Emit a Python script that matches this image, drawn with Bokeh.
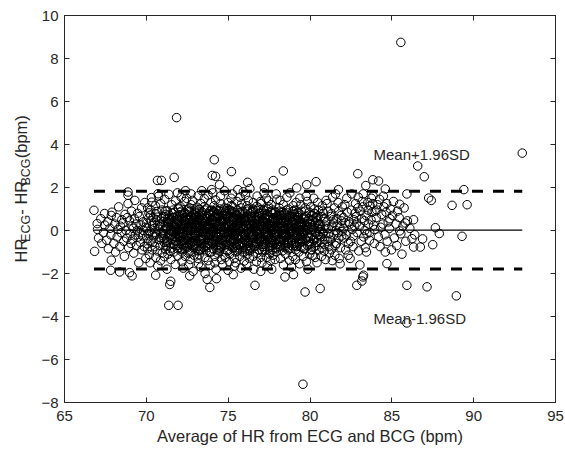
import math
from bokeh.plotting import figure
from bokeh.layouts import row
from bokeh.models import Range1d, LinearAxis, FixedTicker
from bokeh.core.properties import value
from bokeh.embed import file_html
from bokeh.resources import INLINE

# ---------------- data ----------------
avg_core = [
    67.02, 67.08, 67.22, 67.28, 67.38, 67.46, 67.58, 67.64, 67.68, 67.78, 67.83, 67.9,
    68.02, 68.07, 68.12, 68.18, 68.22, 68.27, 68.31, 68.38, 68.42, 68.46, 68.5,
    68.57, 68.62, 68.66, 68.7, 68.76, 68.8, 68.84, 68.88, 68.92,
    68.97, 69.01, 69.05, 69.09, 69.12, 69.16, 69.2, 69.23, 69.27, 69.3, 69.33,
    69.37, 69.4, 69.44, 69.47, 69.51, 69.54, 69.57, 69.6, 69.64, 69.67, 69.71, 69.74,
    69.77, 69.8, 69.83, 69.87, 69.9, 69.93, 69.97,
    70.01, 70.05, 70.08, 70.12, 70.15, 70.18, 70.03, 70.10, 70.16, 70.07,
    70.21, 70.25, 70.28, 70.33, 70.36, 70.39, 70.23, 70.30, 70.37, 70.27,
    70.42, 70.44, 70.49, 70.52, 70.55, 70.58, 70.47, 70.51, 70.57, 70.41,
    70.61, 70.64, 70.68, 70.71, 70.75, 70.78, 70.63, 70.70, 70.77, 70.66,
    70.81, 70.85, 70.88, 70.91, 70.95, 70.98, 70.83, 70.90, 70.96, 70.87,
    71.02, 71.05, 71.09, 71.12, 71.15, 71.19, 71.04, 71.11, 71.17, 71.07,
    71.21, 71.24, 71.28, 71.32, 71.35, 71.38, 71.23, 71.30, 71.37, 71.26,
    71.41, 71.45, 71.48, 71.52, 71.55, 71.59, 71.43, 71.50, 71.57, 71.47,
    71.61, 71.64, 71.68, 71.71, 71.75, 71.78, 71.63, 71.70, 71.77, 71.66,
    71.81, 71.84, 71.88, 71.92, 71.95, 71.98, 71.83, 71.90, 71.97, 71.86,
    72.01, 72.04, 72.07, 72.11, 72.14, 72.18, 72.02, 72.09, 72.16, 72.06, 72.13, 72.19,
    72.21, 72.24, 72.27, 72.31, 72.34, 72.38, 72.22, 72.29, 72.36, 72.26, 72.33, 72.39,
    72.41, 72.44, 72.48, 72.51, 72.54, 72.58, 72.43, 72.50, 72.57, 72.46, 72.53, 72.59,
    72.61, 72.64, 72.67, 72.71, 72.74, 72.78, 72.62, 72.69, 72.76, 72.66, 72.73, 72.79,
    72.81, 72.84, 72.88, 72.91, 72.94, 72.98, 72.83, 72.90, 72.97, 72.86, 72.93, 72.99,
    73.01, 73.04, 73.08, 73.11, 73.15, 73.18, 73.03, 73.10, 73.17, 73.06, 73.13, 73.19,
    73.21, 73.24, 73.28, 73.31, 73.34, 73.38, 73.23, 73.30, 73.37, 73.26, 73.33, 73.39,
    73.41, 73.44, 73.47, 73.51, 73.54, 73.58, 73.43, 73.50, 73.57, 73.46, 73.53, 73.59,
    73.61, 73.64, 73.68, 73.71, 73.74, 73.78, 73.63, 73.70, 73.77, 73.66, 73.73, 73.79,
    73.81, 73.84, 73.88, 73.91, 73.95, 73.98, 73.83, 73.90, 73.97, 73.86, 73.93, 73.99,
    74.01, 74.05, 74.08, 74.11, 74.14, 74.18, 74.03, 74.10, 74.17, 74.06, 74.13, 74.19,
    74.21, 74.24, 74.28, 74.31, 74.35, 74.38, 74.23, 74.30, 74.37, 74.26, 74.33, 74.39,
    74.41, 74.44, 74.48, 74.51, 74.54, 74.58, 74.43, 74.50, 74.57, 74.46, 74.53, 74.59,
    74.61, 74.64, 74.68, 74.71, 74.75, 74.78, 74.63, 74.70, 74.77, 74.66, 74.73, 74.79,
    74.81, 74.84, 74.88, 74.91, 74.94, 74.98, 74.83, 74.90, 74.97, 74.86, 74.93, 74.99,
    75.01, 75.04, 75.08, 75.11, 75.15, 75.18, 75.03, 75.10, 75.17, 75.06, 75.13, 75.19,
    75.21, 75.24, 75.28, 75.31, 75.34, 75.38, 75.23, 75.30, 75.37, 75.26, 75.33, 75.39,
    75.41, 75.44, 75.47, 75.51, 75.54, 75.58, 75.43, 75.50, 75.57, 75.46, 75.53, 75.59,
    75.61, 75.64, 75.68, 75.71, 75.74, 75.78, 75.63, 75.70, 75.77, 75.66, 75.73, 75.79,
    75.81, 75.84, 75.88, 75.91, 75.95, 75.98, 75.83, 75.90, 75.97, 75.86, 75.93, 75.99,
    76.01, 76.04, 76.08, 76.11, 76.15, 76.18, 76.03, 76.10, 76.17, 76.06, 76.13, 76.19,
    76.21, 76.24, 76.28, 76.31, 76.34, 76.38, 76.23, 76.30, 76.37, 76.26, 76.33, 76.39,
    76.41, 76.44, 76.47, 76.51, 76.54, 76.58, 76.43, 76.50, 76.57, 76.46, 76.53, 76.59,
    76.61, 76.64, 76.68, 76.71, 76.74, 76.78, 76.63, 76.70, 76.77, 76.66, 76.73, 76.79,
    76.81, 76.84, 76.88, 76.91, 76.94, 76.98, 76.83, 76.90, 76.97, 76.86, 76.93, 76.99,
    77.01, 77.04, 77.08, 77.11, 77.15, 77.18, 77.03, 77.10, 77.17, 77.06, 77.13, 77.19,
    77.21, 77.24, 77.28, 77.31, 77.34, 77.38, 77.23, 77.30, 77.37, 77.26, 77.33, 77.39,
    77.41, 77.44, 77.47, 77.51, 77.54, 77.58, 77.43, 77.50, 77.57, 77.46, 77.53, 77.59,
    77.61, 77.64, 77.68, 77.71, 77.74, 77.78, 77.63, 77.70, 77.77, 77.66, 77.73, 77.79,
    77.81, 77.84, 77.88, 77.91, 77.95, 77.98, 77.83, 77.90, 77.97, 77.86, 77.93, 77.99,
    78.02, 78.05, 78.09, 78.12, 78.15, 78.19, 78.04, 78.11, 78.17, 78.07,
    78.21, 78.25, 78.28, 78.32, 78.35, 78.38, 78.23, 78.30, 78.37, 78.27,
    78.41, 78.45, 78.48, 78.52, 78.55, 78.59, 78.43, 78.50, 78.57, 78.47,
    78.61, 78.64, 78.68, 78.71, 78.75, 78.78, 78.63, 78.70, 78.77, 78.66,
    78.81, 78.85, 78.88, 78.92, 78.95, 78.98, 78.83, 78.90, 78.97, 78.87,
    79.02, 79.05, 79.09, 79.12, 79.15, 79.19, 79.04, 79.11, 79.17, 79.07,
    79.21, 79.25, 79.28, 79.32, 79.35, 79.38, 79.23, 79.30, 79.37, 79.27,
    79.41, 79.45, 79.48, 79.52, 79.55, 79.59, 79.43, 79.50, 79.57, 79.47,
    79.61, 79.64, 79.68, 79.71, 79.75, 79.78, 79.63, 79.70, 79.77, 79.66,
    79.81, 79.85, 79.88, 79.92, 79.95, 79.98, 79.83, 79.90, 79.97, 79.87,
    80.02, 80.05, 80.09, 80.12, 80.15, 80.19, 80.04, 80.11, 80.17, 80.07,
    80.21, 80.25, 80.28, 80.32, 80.35, 80.38, 80.23, 80.30, 80.37, 80.27,
    80.41, 80.45, 80.48, 80.52, 80.55, 80.59, 80.43, 80.50, 80.57, 80.47,
    80.61, 80.64, 80.68, 80.71, 80.75, 80.78, 80.63, 80.70, 80.77, 80.66,
    80.81, 80.85, 80.88, 80.92, 80.95, 80.98, 80.83, 80.90, 80.97, 80.87,
    81.02, 81.06, 81.10, 81.14, 81.18, 81.04, 81.12, 81.16,
    81.22, 81.26, 81.30, 81.34, 81.38, 81.24, 81.32, 81.36,
    81.42, 81.46, 81.50, 81.54, 81.58, 81.44, 81.52, 81.56,
    81.62, 81.66, 81.70, 81.74, 81.78, 81.64, 81.72, 81.76,
    81.82, 81.86, 81.90, 81.94, 81.98, 81.84, 81.92, 81.96,
    82.03, 82.08, 82.13, 82.18, 82.05, 82.15,
    82.23, 82.28, 82.33, 82.38, 82.25, 82.35,
    82.43, 82.48, 82.53, 82.58, 82.45, 82.55,
    82.63, 82.68, 82.73, 82.78, 82.65, 82.75,
    82.83, 82.88, 82.93, 82.98, 82.85, 82.95,
    83.03, 83.08, 83.13, 83.18, 83.05, 83.15,
    83.23, 83.28, 83.33, 83.38, 83.25, 83.35,
    83.43, 83.48, 83.53, 83.58, 83.45, 83.55,
    83.63, 83.68, 83.73, 83.78, 83.65, 83.75,
    83.83, 83.88, 83.93, 83.98, 83.85, 83.95,
    84.05, 84.12, 84.18, 84.08,
    84.25, 84.32, 84.38, 84.28,
    84.45, 84.52, 84.58, 84.48,
    84.65, 84.72, 84.78, 84.68,
    84.85, 84.92, 84.98, 84.88,
    85.05, 85.15, 85.10,
    85.25, 85.35, 85.30,
    85.45, 85.55,
    85.68, 85.75,
    85.85, 85.95,
    86.10, 86.40,
]
diff_core = [
    0.05, -0.35, 0.55, -0.6, -0.1, 0.25, -0.45, 0.4, -0.85, 0.1, -0.2, 0.85,
    -0.6, 0.3, -1.0, 0.6, -0.3, 0.05, 1.1, -0.75, 0.2, -0.1, 0.5,
    0.35, -0.5, -1.2, 0.75, 0.0, -0.35, 0.6, 1.25, -0.8,
    0.45, -0.15, -0.6, 0.9, 0.2, -0.4, 0.1, -1.05, 0.55, 1.4, -0.2,
    0.3, -0.7, 0.0, 0.8, -0.3, -1.5, 0.65, -0.1, -0.55, 0.25, 1.05, -0.9,
    -0.25, 0.4, 0.0, -0.75, 1.3, 0.15, -1.3,
    0.35, -0.62, 1.05, -0.15, 0.58, -1.12, 0.12, -0.38, 0.82, -0.85,
    -0.05, 0.72, -0.48, 1.32, -0.9, 0.25, -1.5, 0.45, -0.22, 0.95,
    0.6, -0.3, 0.1, -0.75, 1.15, -1.25, 0.38, -0.08, 0.78, -0.55,
    -0.18, 0.48, -0.95, 0.22, 1.6, -0.42, 0.88, -1.65, 0.05, 0.62,
    0.3, -0.7, 1.25, -0.12, 0.55, -1.05, 0.18, -0.35, 0.95, -1.4,
    -0.25, 0.65, -0.55, 1.45, 0.08, -0.88, 0.42, -1.22, 0.75, -0.02,
    0.15, -0.45, 0.92, -1.1, 0.35, 1.68, -0.68, 0.55, -0.15, -1.8,
    0.72, -0.2, 0.0, -0.82, 1.2, -0.4, 0.5, -1.35, 0.28, -0.6,
    -0.35, 0.4, -1.0, 0.85, -0.1, 1.38, 0.2, -0.65, -1.58, 0.6,
    0.05, -0.52, 0.68, -1.18, 1.05, -0.25, 0.32, 1.75, -0.8, -0.05,
    0.45, -0.3, 1.12, -0.85, 0.2, -1.45, 0.68, -0.05, 0.9, -0.6, 1.55, -1.0,
    -0.15, 0.58, -0.72, 0.3, 1.35, -1.2, 0.1, -0.42, 0.82, -1.75, 0.4, 1.85,
    0.25, -0.55, 0.75, -0.1, -1.05, 1.0, 0.5, -0.8, 0.02, 1.5, -0.35, -1.6,
    -0.4, 0.35, -0.95, 0.65, 1.2, -0.2, 0.88, -1.35, 0.12, -0.65, 1.7, 0.45,
    0.18, -0.7, 0.52, -1.15, 0.95, -0.25, 1.4, -0.48, 0.3, -1.9, 0.72, -0.02,
    -0.28, 0.62, -0.6, 1.08, -1.3, 0.15, 0.8, -0.1, 1.62, -0.85, 0.38, -1.55,
    0.4, -0.45, 0.05, -0.9, 1.25, 0.7, -1.12, 0.22, -0.3, 0.98, -1.7, 1.85,
    -0.08, 0.55, -0.78, 0.32, 1.48, -1.25, 0.85, -0.4, 0.12, -0.62, 1.1, -2.0,
    0.6, -0.22, 1.02, -0.7, 0.15, -1.4, 0.42, -0.05, 1.65, -0.95, 0.28, 0.78,
    -0.35, 0.2, -1.0, 0.72, 1.3, -0.55, 0.05, -1.62, 0.95, 0.45, -0.15, 1.9,
    0.12, -0.6, 0.88, -0.28, 1.15, -1.2, 0.5, -0.85, 0.3, 1.75, -0.45, -1.5,
    -0.5, 0.35, -0.15, 0.95, -1.05, 0.62, 1.42, -0.32, 0.08, -1.8, 0.78, -0.7,
    0.25, -0.8, 0.55, -0.05, 1.25, -1.35, 0.92, -0.42, 0.15, -0.95, 1.6, 0.4,
    -0.2, 0.7, -0.62, 0.18, -1.15, 1.05, 0.45, -0.3, 1.85, -1.6, 0.02, 0.82,
    0.55, -0.4, 0.1, -0.9, 0.78, 1.3, -1.25, 0.32, -0.1, -0.65, 1.02, -1.85,
    -0.12, 0.42, -0.7, 0.95, -0.35, 1.5, 0.2, -1.1, 0.65, -1.45, 0.05, 1.15,
    0.3, -0.55, 1.1, -0.2, 0.6, -1.3, 0.85, -0.82, 0.12, 1.7, -0.38, -1.65,
    -0.45, 0.15, -1.0, 0.72, 1.35, -0.25, 0.5, -0.7, 0.95, -1.5, 0.28, 1.9,
    0.08, -0.62, 0.58, -1.2, 0.35, 1.05, -0.35, 0.82, -0.05, -0.9, 1.55, -1.75,
    0.45, -0.3, 0.9, -0.78, 0.18, -1.42, 1.25, -0.1, 0.62, -0.55, 1.8, -1.0,
    -0.25, 0.55, -0.85, 0.22, 1.15, -1.1, 0.4, -0.48, 0.98, 1.65, -1.55, 0.02,
    0.6, -0.15, 0.3, -0.95, 0.78, -0.4, 1.4, -1.3, 0.1, -0.7, 1.95, 0.48,
    -0.05, 0.65, -0.55, 1.0, -1.2, 0.25, -0.3, 0.88, -1.8, 0.45, 1.3, -0.75,
    0.35, -0.72, 0.15, -0.28, 1.12, -1.05, 0.7, -0.5, 1.6, 0.02, -1.45, 0.92,
    -0.38, 0.48, -0.9, 0.8, 0.05, 1.35, -0.62, 0.28, -1.25, 1.05, -0.15, -1.9,
    0.2, -0.45, 0.72, -1.0, 0.42, -0.2, 1.25, -0.75, 0.95, -1.5, 0.1, 1.75,
    -0.1, 0.55, -0.65, 0.3, -1.25, 1.0, 0.8, -0.35, 0.15, -0.92, 1.5, -1.65,
    0.5, -0.3, 1.1, -0.8, 0.22, -1.4, 0.65, 0.0, -0.55, 1.38, -1.1, 0.9,
    -0.42, 0.18, -0.05, 0.78, -1.15, 0.4, 1.2, -0.7, 0.6, -1.8, 0.95, -0.25,
    0.3, -0.6, 0.85, -0.15, -1.0, 1.45, 0.05, -0.45, 0.62, -1.35, 1.7, 0.2,
    -0.2, 0.45, -0.75, 1.05, 0.12, -1.3, 0.68, -0.5, 1.4, -0.05,
    0.55, -0.35, 0.2, -0.95, 0.85, -1.6, 0.35, -0.15, 1.2, -0.68,
    -0.48, 0.1, 0.72, -1.1, 0.4, 1.55, -0.25, -0.8, 0.95, 0.15,
    0.25, -0.62, 1.0, -0.12, -1.4, 0.58, 0.82, -0.35, 1.75, -0.9,
    -0.05, 0.38, -0.7, 0.65, -1.2, 1.15, 0.1, -0.45, 0.88, -1.7,
    0.48, -0.25, 0.15, -0.9, 1.3, -0.55, 0.75, -1.35, 0.02, 0.95,
    -0.3, 0.62, -0.05, -1.0, 0.4, 1.5, -0.72, 0.22, -1.55, 0.85,
    0.2, -0.55, 0.9, -0.2, 0.55, -1.2, 1.2, -0.8, 0.05, -0.4,
    -0.15, 0.35, -0.85, 1.05, 0.0, -1.45, 0.6, -0.38, 1.6, 0.25,
    0.42, -0.7, 0.12, -0.25, 0.85, -1.1, 1.35, -0.5, 0.3, -1.8,
    -0.35, 0.28, -0.6, 0.7, -1.15, 0.05, 1.1, -0.2, 0.5, -0.9,
    0.15, -0.45, 0.8, -1.25, 0.35, -0.1, 1.5, -0.75, 0.6, 1.0,
    -0.55, 0.45, -0.2, 0.95, -0.9, 0.2, -1.5, 0.68, -0.05, 1.3,
    0.3, -0.3, 0.65, -0.8, 1.15, -0.15, 0.05, -1.2, 0.9, -0.55,
    -0.1, 0.55, -0.65, 0.25, -1.35, 1.4, 0.8, -0.4, 0.1, -0.95,
    0.4, -0.5, 0.9, -0.15, -1.05, 1.25, 0.1, -0.75,
    -0.3, 0.65, -0.9, 0.2, 1.55, -0.45, 0.78, -1.4,
    0.5, -0.2, 1.05, -0.7, 0.0, 0.35, -1.15, 1.7,
    -0.6, 0.25, -0.1, 0.88, -1.3, 0.55, 1.3, -0.35,
    0.15, -0.8, 0.7, -0.25, 1.1, -1.55, 0.45, -0.05,
    0.6, -0.35, 1.2, -0.9, 0.1, 0.35,
    -0.2, 0.85, -1.15, 0.4, 1.5, -0.6,
    0.3, -0.5, 0.95, 0.05, -1.3, 1.7,
    -0.75, 0.5, 0.2, 1.25, -0.25, 0.8,
    0.65, -0.1, 1.05, -0.95, 0.35, 1.55,
    0.2, 0.9, -0.5, 1.35, -1.6, 0.55,
    1.1, -0.3, 0.45, -0.8, 1.7, 0.0,
    0.7, -0.15, 1.3, 0.3, -1.0, 0.95,
    -0.45, 1.15, 0.5, 0.85, -0.1, 1.5,
    1.25, 0.25, -0.6, 0.9, 1.6, 0.05,
    0.6, 1.2, -0.3, 0.95,
    1.45, 0.15, 0.75, -0.75,
    0.3, 1.1, -0.2, 1.6,
    0.85, -0.5, 0.4, 1.25,
    0.1, 1.0, -0.9, 0.55,
    0.7, -0.35, 1.35,
    0.3, 0.9, -0.7,
    0.6, -0.15,
    0.2, 1.05,
    -0.5, 0.45,
    0.1, -0.2,
]
avg_dense = [
    71.03, 71.08, 71.14, 71.20, 71.25, 71.31, 71.06, 71.17, 71.28, 71.36,
    71.42, 71.48, 71.55, 71.60, 71.66, 71.72, 71.45, 71.58, 71.69, 71.77,
    71.82, 71.88, 71.93, 72.00, 72.05, 72.12, 71.85, 71.97, 72.08, 72.16,
    72.22, 72.28, 72.35, 72.40, 72.46, 72.52, 72.25, 72.37, 72.49, 72.56,
    72.62, 72.68, 72.74, 72.80, 72.86, 72.92, 72.65, 72.77, 72.89, 72.96,
    73.02, 73.08, 73.14, 73.20, 73.26, 73.32, 73.05, 73.17, 73.29, 73.36,
    73.42, 73.48, 73.54, 73.60, 73.66, 73.72, 73.45, 73.57, 73.69, 73.76,
    73.82, 73.88, 73.94, 74.00, 74.06, 74.12, 73.85, 73.97, 74.09, 74.16,
    74.22, 74.28, 74.34, 74.40, 74.46, 74.52, 74.25, 74.37, 74.49, 74.56,
    74.62, 74.68, 74.74, 74.80, 74.86, 74.92, 74.65, 74.77, 74.89, 74.96,
    75.02, 75.08, 75.14, 75.20, 75.26, 75.32, 75.05, 75.17, 75.29, 75.36,
    75.42, 75.48, 75.54, 75.60, 75.66, 75.72, 75.45, 75.57, 75.69, 75.76,
    75.82, 75.88, 75.94, 76.00, 76.06, 76.12, 75.85, 75.97, 76.09, 76.16,
    76.22, 76.28, 76.34, 76.40, 76.46, 76.52, 76.25, 76.37, 76.49, 76.56,
    76.62, 76.68, 76.74, 76.80, 76.86, 76.92, 76.65, 76.77, 76.89, 76.96,
    77.02, 77.08, 77.14, 77.20, 77.26, 77.32, 77.05, 77.17, 77.29, 77.36,
    77.42, 77.48, 77.54, 77.60, 77.66, 77.72, 77.45, 77.57, 77.69, 77.76,
    77.82, 77.88, 77.94, 78.00, 78.06, 78.12, 77.85, 77.97, 78.09, 78.16,
    78.22, 78.28, 78.34, 78.40, 78.46, 78.52, 78.25, 78.37, 78.49, 78.56,
    78.62, 78.68, 78.74, 78.80, 78.86, 78.92, 78.65, 78.77, 78.89, 78.96,
    79.02, 79.08, 79.14, 79.20, 79.26, 79.32, 79.05, 79.17, 79.29, 79.36,
    79.42, 79.48, 79.54, 79.60, 79.66, 79.72, 79.45, 79.57, 79.69, 79.76,
    79.82, 79.88, 79.94, 80.00, 80.06, 80.12, 79.85, 79.97, 80.09, 80.16,
    80.22, 80.28, 80.34, 80.40, 80.46, 80.52, 80.25, 80.37, 80.49, 80.56,
    71.62, 71.67, 71.73, 71.79, 71.84, 71.90, 71.64, 71.76, 71.87, 71.95,
    72.03, 72.09, 72.15, 72.21, 72.27, 72.33, 72.06, 72.18, 72.30, 72.37,
    72.42, 72.47, 72.53, 72.59, 72.65, 72.71, 72.45, 72.56, 72.68, 72.76,
    72.82, 72.87, 72.93, 72.99, 73.05, 73.11, 72.85, 72.96, 73.08, 73.16,
    73.22, 73.27, 73.33, 73.39, 73.45, 73.51, 73.25, 73.36, 73.48, 73.56,
    73.62, 73.67, 73.73, 73.79, 73.85, 73.91, 73.65, 73.76, 73.88, 73.96,
    74.02, 74.07, 74.13, 74.19, 74.25, 74.31, 74.05, 74.16, 74.28, 74.36,
    74.42, 74.47, 74.53, 74.59, 74.65, 74.71, 74.45, 74.56, 74.68, 74.76,
    74.82, 74.87, 74.93, 74.99, 75.05, 75.11, 74.85, 74.96, 75.08, 75.16,
    75.22, 75.27, 75.33, 75.39, 75.45, 75.51, 75.25, 75.36, 75.48, 75.56,
    75.62, 75.67, 75.73, 75.79, 75.85, 75.91, 75.65, 75.76, 75.88, 75.96,
    76.02, 76.07, 76.13, 76.19, 76.25, 76.31, 76.05, 76.16, 76.28, 76.36,
    76.42, 76.47, 76.53, 76.59, 76.65, 76.71, 76.45, 76.56, 76.68, 76.76,
    76.82, 76.87, 76.93, 76.99, 77.05, 77.11, 76.85, 76.96, 77.08, 77.16,
    77.22, 77.27, 77.33, 77.39, 77.45, 77.51, 77.25, 77.36, 77.48, 77.56,
    77.62, 77.67, 77.73, 77.79, 77.85, 77.91, 77.65, 77.76, 77.88, 77.96,
    78.02, 78.07, 78.13, 78.19, 78.25, 78.31, 78.05, 78.16, 78.28, 78.36,
    78.42, 78.47, 78.53, 78.59, 78.65, 78.71, 78.45, 78.56, 78.68, 78.76,
    78.82, 78.87, 78.93, 78.99, 79.05, 79.11, 78.85, 78.96, 79.08, 79.16,
    79.22, 79.27, 79.33, 79.39, 79.45, 79.51, 79.25, 79.36, 79.48, 79.56,
]
diff_dense = [
    0.22, -0.4, 0.65, -0.75, 0.05, 0.4, -0.15, 0.9, -0.55, 0.3,
    -0.3, 0.5, -0.05, 0.8, -0.65, 0.15, -0.95, 0.35, 0.6, -0.2,
    0.1, -0.7, 0.45, -0.25, 0.85, -0.5, 0.3, 1.0, -0.1, 0.55,
    -0.45, 0.2, -0.85, 0.6, 0.0, 0.95, -0.2, 0.4, -0.6, 0.15,
    0.5, -0.15, 0.3, -0.6, 0.75, -0.35, 1.05, 0.1, -0.8, 0.25,
    -0.2, 0.65, -0.5, 0.1, -0.9, 0.45, 0.25, -0.05, 0.8, -0.4,
    0.35, -0.3, 0.7, -0.75, 0.05, 0.55, -0.45, 0.95, -0.1, 0.2,
    -0.6, 0.15, -0.2, 0.5, -0.4, 0.85, 0.3, -1.0, 0.0, 0.65,
    0.4, -0.1, 0.75, -0.55, 0.2, -0.85, 0.6, -0.3, 1.0, 0.05,
    -0.35, 0.55, -0.7, 0.15, 0.9, -0.2, 0.35, -0.5, 0.65, -0.95,
    0.2, -0.45, 0.6, -0.05, -0.8, 0.4, 0.95, -0.25, 0.1, -0.6,
    -0.15, 0.7, -0.4, 0.3, -0.65, 0.85, 0.05, -0.95, 0.5, 0.2,
    0.55, -0.25, 0.1, -0.7, 0.45, -0.05, 0.8, -0.45, 0.25, -0.9,
    -0.5, 0.3, -0.1, 0.65, -0.35, 0.95, 0.15, -0.8, 0.45, -0.2,
    0.25, -0.6, 0.5, -0.15, 0.8, -0.45, 0.0, 0.6, -0.9, 0.35,
    -0.3, 0.45, -0.75, 0.2, -0.05, 0.7, -0.5, 0.95, 0.1, -0.25,
    0.6, -0.2, 0.3, -0.55, 0.85, -0.9, 0.15, -0.35, 0.5, 0.05,
    -0.1, 0.5, -0.65, 0.25, -0.4, 0.75, 0.4, -0.85, 0.1, 0.9,
    0.35, -0.45, 0.6, -0.2, 0.05, -0.7, 0.85, 0.2, -0.3, 0.5,
    -0.55, 0.15, -0.05, 0.7, -0.35, 0.4, -0.8, 0.55, 0.25, -0.15,
    0.3, -0.6, 0.5, -0.1, 0.8, -0.4, 0.1, -0.75, 0.6, 0.0,
    -0.25, 0.4, -0.5, 0.15, -0.85, 0.65, 0.3, -0.05, 0.9, -0.45,
    0.2, -0.35, 0.55, -0.65, 0.05, 0.7, -0.15, 0.35, -0.9, 0.45,
    -0.4, 0.25, -0.1, 0.6, -0.55, 0.3, 0.8, -0.7, 0.1, -0.25,
    0.6, -0.1, 0.35, -0.5, 0.15, -0.85, 0.95, -0.3, 0.5, -0.05,
    -0.35, 0.25, -0.65, 0.7, -0.15, 0.45, 0.05, -0.9, 0.8, -0.45,
    0.15, -0.75, 0.55, -0.3, 0.9, -0.55, 0.3, 0.0, -1.05, 0.65,
    -0.5, 0.4, -0.1, 0.85, -0.7, 0.2, -0.25, 0.6, 0.1, -0.95,
    0.7, -0.4, 0.25, -0.6, 0.5, -0.15, 1.0, -0.85, 0.05, 0.4,
    -0.2, 0.55, -0.8, 0.3, -0.45, 0.75, 0.1, -0.6, 0.9, -0.05,
    0.45, -0.55, 0.05, 0.65, -0.25, -0.9, 0.35, 0.85, -0.4, 0.2,
    -0.65, 0.3, -0.2, 0.55, -0.45, 0.95, 0.1, -0.75, 0.4, -0.1,
    0.25, -0.3, 0.7, -0.65, 0.15, -0.05, 0.5, -0.95, 0.85, -0.4,
    -0.1, 0.6, -0.5, 0.2, -0.8, 0.45, 0.9, -0.25, 0.0, 0.7,
    0.35, -0.7, 0.1, -0.35, 0.75, -0.55, 0.25, 0.55, -1.0, -0.15,
    -0.4, 0.45, -0.05, 0.9, -0.6, 0.2, -0.25, 0.65, -0.85, 0.3,
    0.55, -0.2, 0.3, -0.75, 0.1, -0.4, 0.85, -0.55, 0.45, -0.05,
    -0.15, 0.65, -0.5, 0.2, -0.9, 0.5, 0.05, -0.35, 0.8, -0.65,
    0.4, -0.45, 0.75, -0.1, 0.3, -0.7, 0.6, -0.25, 0.1, -0.95,
    -0.3, 0.2, -0.6, 0.55, -0.15, 0.85, -0.45, 0.35, -0.8, 0.1,
    0.5, -0.05, 0.3, -0.5, 0.7, -0.3, 0.15, -0.75, 0.45, -0.2,
    -0.45, 0.35, -0.15, 0.6, -0.6, 0.1, 0.8, -0.3, 0.25, -0.85,
    0.2, -0.55, 0.45, -0.1, 0.65, -0.35, 0.0, 0.9, -0.7, 0.3,
    -0.2, 0.5, -0.4, 0.15, -0.75, 0.35, 0.7, -0.5, 0.05, -0.1,
]
avg_edge = [
    71.85, 74.15, 70.68, 70.92, 71.70, 74.03, 74.23, 75.20, 78.37, 76.19, 77.76, 74.47,
    77.21, 79.19, 79.80, 68.88, 68.88, 70.31, 70.72,
    92.97, 86.58, 86.98, 82.92, 83.84, 84.19, 83.41, 84.60, 80.37, 85.92, 89.40, 87.25,
    81.74, 87.41, 88.68, 89.60, 85.48, 87.66, 87.90, 89.29, 86.88, 87.50, 86.74, 86.33,
    86.23, 85.62, 86.33, 85.82, 85.48, 84.60, 84.70, 83.27, 83.17, 82.86, 85.92, 87.15,
    88.94, 85.92, 79.70, 80.62, 83.23,
    71.37, 71.94, 76.64, 73.88, 74.29, 73.72, 71.43, 71.49, 72.65, 70.57, 67.86, 67.82,
    68.37, 68.98, 69.13, 75.31, 78.47, 78.99, 79.57, 85.55,
    66.80, 67.00, 66.84, 67.45, 67.86,
]
diff_edge = [
    5.25, 3.29, 2.33, 2.33, 2.47, 2.56, 2.52, 2.74, 2.77, 2.24, 2.32, 2.13,
    1.99, 1.98, 2.13, 1.79, 1.64, 1.53, 1.71,
    3.60, 3.00, 2.50, 2.64, 2.36, 2.30, 2.09, 1.93, 2.27, 1.70, 1.90, 1.51,
    1.90, 1.40, 1.17, 1.20, 1.22, 0.13, -0.14, -0.27, -0.39, -0.66, -0.77, -0.77,
    -0.38, -1.10, 0.50, 0.35, -0.02, -1.00, -1.54, -2.08, -2.35, -2.55, -2.55, -2.62,
    -3.04, -4.30, -2.86, -2.70, -2.16,
    -3.48, -3.48, -2.55, -2.65, -2.24, -2.27, -2.51, -2.36, -2.11, -2.08, -1.38, -1.85,
    -1.93, -1.96, -2.11, -2.05, -2.16, -2.05, -7.15, 8.75,
    0.94, 0.32, -0.97, 0.79, 0.70,
]

mean_diff = 0.02
upper_loa = 1.83
lower_loa = -1.79
loa_labels = ["Mean+1.96SD", "Mean-1.96SD"]

x_ticks = [65, 70, 75, 80, 85, 90, 95]
y_ticks = [-8, -6, -4, -2, 0, 2, 4, 6, 8, 10]

assert len(avg_core) == len(diff_core), (len(avg_core), len(diff_core))
assert len(avg_dense) == len(diff_dense), (len(avg_dense), len(diff_dense))
assert len(avg_edge) == len(diff_edge), (len(avg_edge), len(diff_edge))
avg_hr = avg_core + avg_dense + avg_edge
diff_hr = diff_core + diff_dense + diff_edge

# ---------------- layout constants ----------------
FONT = "Liberation Sans"
TXT = "#262626"
X0, X1, Y0, Y1 = 65, 95, -8, 10
TOTAL_H = 450
FRAME_TOP, FRAME_H = 15, 387
LABEL_W = 38           # width of the strip that carries the y-axis title
LABEL_FS = 16.5        # axis-title font size
SUB_FS = 12.5          # subscript font size

# ---------------- main figure ----------------
p = figure(width=565 - LABEL_W, height=TOTAL_H, x_range=Range1d(X0, X1), y_range=Range1d(Y0, Y1),
           output_backend="svg", toolbar_location=None,
           min_border_left=63 - LABEL_W, min_border_right=10,
           min_border_top=FRAME_TOP, min_border_bottom=TOTAL_H - FRAME_TOP - FRAME_H)
p.xgrid.visible = False
p.ygrid.visible = False
p.outline_line_color = TXT
p.background_fill_color = "white"
p.border_fill_color = "white"


def style_axis(ax, ticks, show_labels=True):
    ax.ticker = FixedTicker(ticks=ticks)
    ax.major_tick_in = 5
    ax.major_tick_out = 0
    ax.minor_tick_in = 0
    ax.minor_tick_out = 0
    ax.axis_line_color = TXT
    ax.major_tick_line_color = TXT
    ax.major_label_text_font = FONT
    ax.major_label_text_color = TXT
    ax.major_label_text_font_size = "15px"
    if not show_labels:
        ax.major_label_overrides = {t: "" for t in ticks}
        ax.major_label_standoff = 0


style_axis(p.xaxis[0], x_ticks)
style_axis(p.yaxis[0], y_ticks)
p.xaxis[0].major_label_standoff = 8
p.yaxis[0].major_label_standoff = 6
p.xaxis[0].axis_label = "Average of HR from ECG and BCG (bpm)"
p.xaxis[0].axis_label_text_font = FONT
p.xaxis[0].axis_label_text_font_size = f"{LABEL_FS}px"
p.xaxis[0].axis_label_text_font_style = "normal"
p.xaxis[0].axis_label_text_color = TXT
p.xaxis[0].axis_label_standoff = 3

top_ax = LinearAxis()
style_axis(top_ax, x_ticks, show_labels=False)
p.add_layout(top_ax, "above")
right_ax = LinearAxis()
style_axis(right_ax, y_ticks, show_labels=False)
p.add_layout(right_ax, "right")

p.scatter(avg_hr, diff_hr, marker="circle", size=8.5, fill_color=None,
          line_color="black", line_width=1)

x0, x1 = min(avg_hr), max(avg_hr)
p.line([x0, x1], [mean_diff, mean_diff], line_color="black", line_width=1.2)
p.line([x0, x1], [upper_loa, upper_loa], line_color="black", line_width=3, line_dash="11 10")
p.line([x0, x1], [lower_loa, lower_loa], line_color="black", line_width=3, line_dash="11 10")

p.text(x=[83.88, 83.88], y=[3.54, -4.07], text=loa_labels,
       text_font=value(FONT), text_font_size="15px", text_color=TXT,
       text_baseline="alphabetic", text_align="left")

# ---------------- y-axis title strip (pixel coordinates, y upward) ----------------
q = figure(width=LABEL_W, height=TOTAL_H, x_range=Range1d(0, LABEL_W), y_range=Range1d(0, TOTAL_H),
           output_backend="svg", toolbar_location=None, min_border=0,
           x_axis_location=None, y_axis_location=None)
q.xgrid.visible = False
q.ygrid.visible = False
q.outline_line_color = None
q.background_fill_color = "white"
q.border_fill_color = "white"

adv = {"H": .722, "R": .722, "E": .667, "C": .722, "G": .778, "B": .667, " ": .278,
       "-": .333, "(": .333, ")": .333, "b": .556, "p": .556, "m": .833}
segments = [("HR", LABEL_FS, False), ("ECG", SUB_FS, True), (" ", LABEL_FS, None),
            ("- HR", LABEL_FS, False), ("BCG", SUB_FS, True), (" ", LABEL_FS, None),
            ("(bpm)", LABEL_FS, False)]
total = sum(sum(adv[c] for c in s) * fs for s, fs, _ in segments)
centre = TOTAL_H - 205          # page row of the title's middle
pos = centre - total / 2
for s, fs, sub in segments:
    w = sum(adv[c] for c in s) * fs
    if sub is not None:
        q.text(x=[25.5 if sub else 20.5], y=[pos], text=[s], angle=math.pi / 2,
               text_font=value(FONT), text_font_size=f"{fs}px", text_color=TXT,
               text_align="left", text_baseline="middle")
    pos += w

layout = row(q, p, spacing=0)
open("out.html", "w").write(file_html(layout, INLINE))
